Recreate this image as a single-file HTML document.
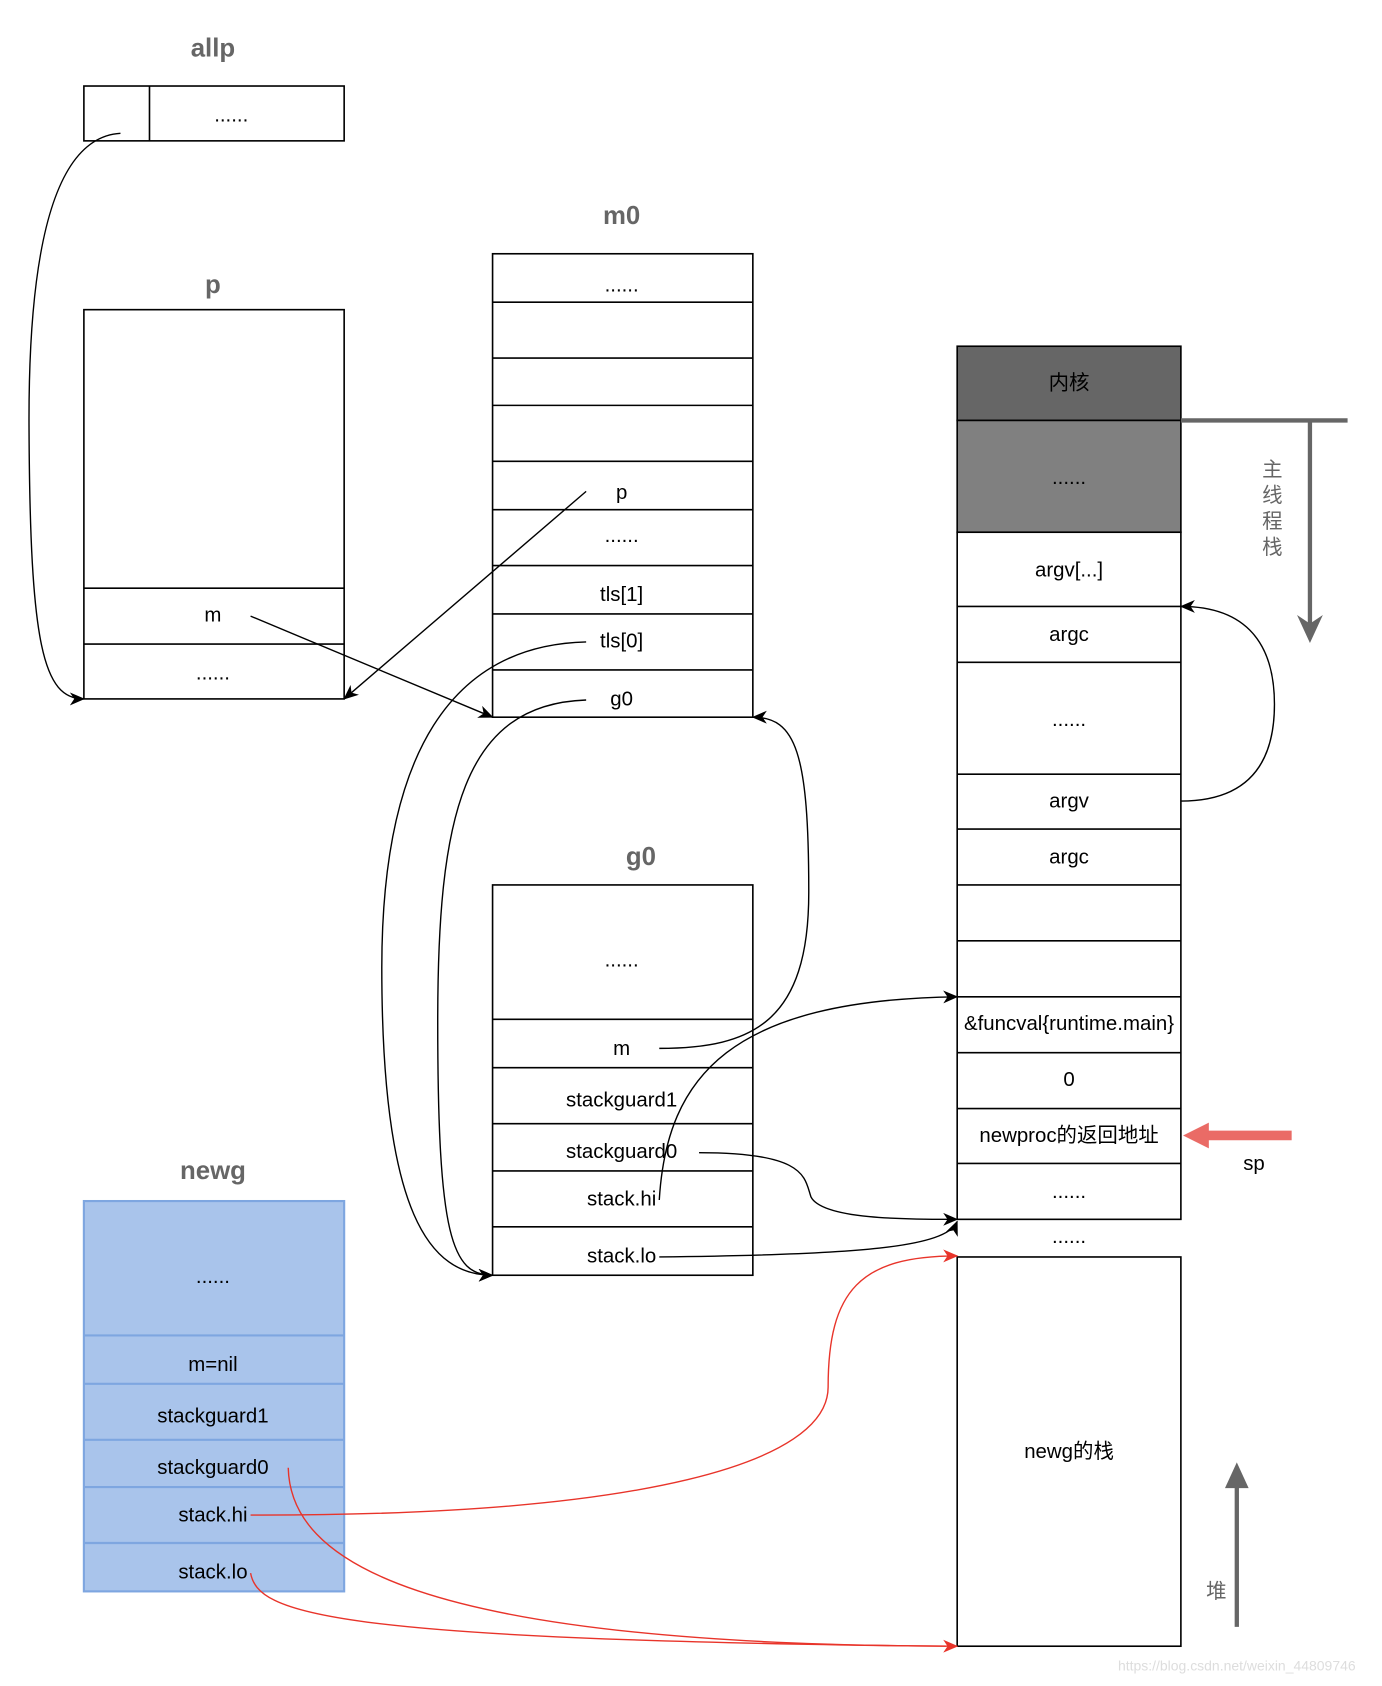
<!DOCTYPE html>
<html><head><meta charset="utf-8"><style>
html,body{margin:0;padding:0;background:#fff;}
svg{display:block;}
text{font-family:"Liberation Sans","Noto Sans CJK SC",sans-serif;font-size:19px;fill:#000;text-anchor:middle;dominant-baseline:middle;}
.t{font-size:24px;font-weight:bold;fill:#666;}
.b{fill:#fff;stroke:#000;stroke-width:1.5;}
.l{stroke:#000;stroke-width:1.5;}
.c{fill:none;stroke:#000;stroke-width:1.3;}
.r{fill:none;stroke:#e8342a;stroke-width:1.3;}
.bl{stroke:#7ea6e0;stroke-width:2;}
</style></head><body>
<svg width="1382" height="1686" viewBox="0 0 1285 1568" preserveAspectRatio="none" xmlns="http://www.w3.org/2000/svg">
<defs>
<marker id="a" markerWidth="14" markerHeight="12" refX="13" refY="6" orient="auto" markerUnits="userSpaceOnUse"><path d="M0,0 L14,6 L0,12 L4,6 Z" fill="#000"/></marker>
<marker id="ar" markerWidth="14" markerHeight="12" refX="13" refY="6" orient="auto" markerUnits="userSpaceOnUse"><path d="M0,0 L14,6 L0,12 L4,6 Z" fill="#e8342a"/></marker>
</defs>

<!-- allp -->
<text class="t" x="198" y="46">allp</text>
<rect class="b" x="78" y="80" width="242" height="51"/>
<line class="l" x1="139" y1="80" x2="139" y2="131"/>
<text x="215" y="108">......</text>

<!-- p -->
<text class="t" x="198" y="266">p</text>
<rect class="b" x="78" y="288" width="242" height="362"/>
<line class="l" x1="78" y1="547" x2="320" y2="547"/>
<line class="l" x1="78" y1="599" x2="320" y2="599"/>
<text x="198" y="573">m</text>
<text x="198" y="627">......</text>

<!-- m0 -->
<text class="t" x="578" y="202">m0</text>
<rect class="b" x="458" y="236" width="242" height="431"/>
<g class="l">
<line x1="458" y1="281" x2="700" y2="281"/><line x1="458" y1="333" x2="700" y2="333"/>
<line x1="458" y1="377" x2="700" y2="377"/><line x1="458" y1="429" x2="700" y2="429"/>
<line x1="458" y1="474" x2="700" y2="474"/><line x1="458" y1="526" x2="700" y2="526"/>
<line x1="458" y1="571" x2="700" y2="571"/><line x1="458" y1="623" x2="700" y2="623"/>
</g>
<text x="578" y="266">......</text>
<text x="578" y="459">p</text>
<text x="578" y="499">......</text>
<text x="578" y="554">tls[1]</text>
<text x="578" y="597">tls[0]</text>
<text x="578" y="651">g0</text>

<!-- g0 -->
<text class="t" x="596" y="798">g0</text>
<rect class="b" x="458" y="823" width="242" height="363"/>
<g class="l">
<line x1="458" y1="948" x2="700" y2="948"/><line x1="458" y1="993" x2="700" y2="993"/>
<line x1="458" y1="1045" x2="700" y2="1045"/><line x1="458" y1="1089" x2="700" y2="1089"/>
<line x1="458" y1="1141" x2="700" y2="1141"/>
</g>
<text x="578" y="894">......</text>
<text x="578" y="976">m</text>
<text x="578" y="1024">stackguard1</text>
<text x="578" y="1072">stackguard0</text>
<text x="578" y="1116">stack.hi</text>
<text x="578" y="1169">stack.lo</text>

<!-- newg -->
<text class="t" x="198" y="1090">newg</text>
<rect x="78" y="1117" width="242" height="363" fill="#a9c4eb" stroke="#7ea6e0" stroke-width="2"/>
<g class="bl">
<line x1="78" y1="1242" x2="320" y2="1242"/><line x1="78" y1="1287" x2="320" y2="1287"/>
<line x1="78" y1="1339" x2="320" y2="1339"/><line x1="78" y1="1383" x2="320" y2="1383"/>
<line x1="78" y1="1435" x2="320" y2="1435"/>
</g>
<text x="198" y="1188">......</text>
<text x="198" y="1270">m=nil</text>
<text x="198" y="1318">stackguard1</text>
<text x="198" y="1366">stackguard0</text>
<text x="198" y="1410">stack.hi</text>
<text x="198" y="1463">stack.lo</text>

<!-- right stack -->
<rect x="890" y="322" width="208" height="69" fill="#666" stroke="#000" stroke-width="1.5"/>
<rect x="890" y="391" width="208" height="104" fill="#808080" stroke="#000" stroke-width="1.5"/>
<rect class="b" x="890" y="495" width="208" height="639"/>
<g class="l">
<line x1="890" y1="564" x2="1098" y2="564"/><line x1="890" y1="616" x2="1098" y2="616"/>
<line x1="890" y1="720" x2="1098" y2="720"/><line x1="890" y1="771" x2="1098" y2="771"/>
<line x1="890" y1="823" x2="1098" y2="823"/><line x1="890" y1="875" x2="1098" y2="875"/>
<line x1="890" y1="927" x2="1098" y2="927"/><line x1="890" y1="979" x2="1098" y2="979"/>
<line x1="890" y1="1031" x2="1098" y2="1031"/><line x1="890" y1="1082" x2="1098" y2="1082"/>
</g>
<text x="994" y="357">内核</text>
<text x="994" y="445">......</text>
<text x="994" y="531">argv[...]</text>
<text x="994" y="591">argc</text>
<text x="994" y="670">......</text>
<text x="994" y="746">argv</text>
<text x="994" y="798">argc</text>
<text x="994" y="953">&amp;funcval{runtime.main}</text>
<text x="994" y="1005">0</text>
<text x="994" y="1057">newproc的返回地址</text>
<text x="994" y="1109">......</text>
<text x="994" y="1151">......</text>
<rect class="b" x="890" y="1169" width="208" height="362"/>
<text x="994" y="1351">newg的栈</text>

<!-- gray arrows -->
<path d="M1098,391 L1253,391 M1218,391 L1218,580" stroke="#666" stroke-width="4" fill="none"/>
<path d="M1206,572 L1218,598 L1230,572 L1218,580 Z" fill="#666"/>
<text x="1183" y="438" style="fill:#666">主</text>
<text x="1183" y="462" style="fill:#666">线</text>
<text x="1183" y="486" style="fill:#666">程</text>
<text x="1183" y="510" style="fill:#666">栈</text>
<path d="M1150,1513 L1150,1380" stroke="#666" stroke-width="4" fill="none"/>
<path d="M1139,1384 L1150,1360 L1161,1384 Z" fill="#666"/>
<text x="1131" y="1481" style="fill:#666">堆</text>

<!-- sp arrow -->
<path d="M1201,1056 L1120,1056" stroke="#ea6b66" stroke-width="9" fill="none"/>
<path d="M1124,1044 L1100,1056 L1124,1068 Z" fill="#ea6b66"/>
<text x="1166" y="1083">sp</text>

<!-- black connectors -->
<path class="c" marker-end="url(#a)" d="M112,124 C45,128 26,250 27,400 C28,600 40,650 78,650"/>
<path class="c" marker-end="url(#a)" d="M545,457 L320,650"/>
<path class="c" marker-end="url(#a)" d="M233,573 L458,667"/>
<path class="c" marker-end="url(#a)" d="M545,597 C420,600 355,700 355,900 C355,1130 400,1186 458,1186"/>
<path class="c" marker-end="url(#a)" d="M545,651 C430,655 407,760 407,950 C407,1150 420,1186 458,1186"/>
<path class="c" marker-end="url(#a)" d="M613,975 C700,975 752,950 752,830 C752,700 740,667 700,667"/>
<path class="c" marker-end="url(#a)" d="M613,1116 C620,1000 680,930 890,927"/>
<path class="c" marker-end="url(#a)" d="M650,1072 C750,1072 748,1095 754,1113 C765,1135 850,1134 890,1134"/>
<path class="c" marker-end="url(#a)" d="M613,1169 C800,1167 880,1160 890,1136"/>
<path class="c" marker-end="url(#a)" d="M1098,745 C1165,745 1185,705 1185,655 C1185,600 1160,564 1098,564"/>

<!-- red connectors -->
<path class="r" marker-end="url(#ar)" d="M233,1409 C600,1410 770,1360 770,1290 C770,1200 800,1168 890,1168"/>
<path class="r" marker-end="url(#ar)" d="M268,1365 C270,1450 380,1530 890,1531"/>
<path class="r" d="M233,1463 C240,1500 300,1525 880,1531"/>

<text x="1150" y="1550" style="font-size:13px;fill:#ddd">https://blog.csdn.net/weixin_44809746</text>
</svg>
</body></html>
